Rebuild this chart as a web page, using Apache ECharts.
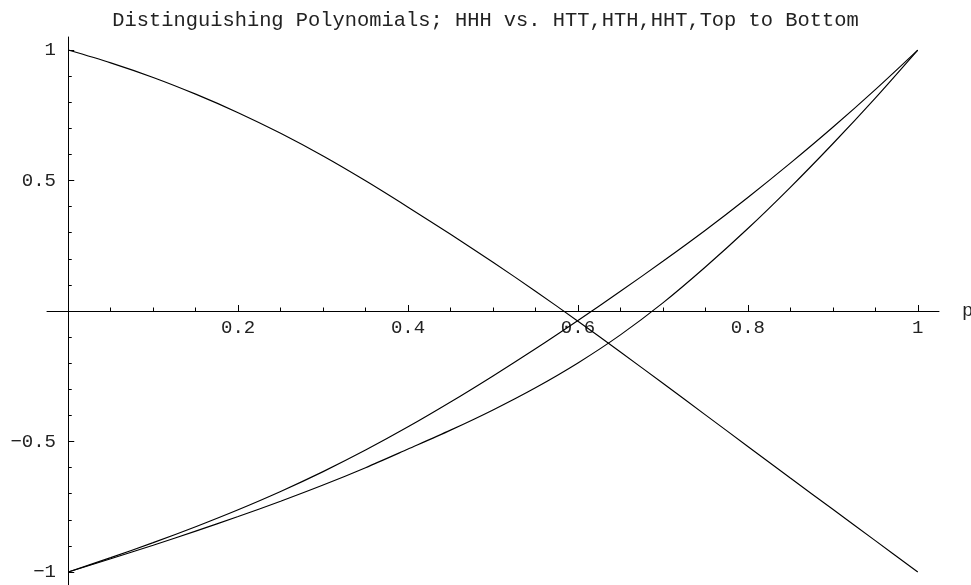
<!DOCTYPE html>
<html>
<head>
<meta charset="utf-8">
<script src="https://cdn.jsdelivr.net/npm/echarts@6/dist/echarts.min.js"></script>
<style>
  html, body { margin: 0; padding: 0; background: #fff; }
  #chart { width: 971px; height: 585px; }
</style>
</head>
<body>
<div id="chart"></div>
<script>
// Probability of heads, sampled every 0.05
const pValues = [0, 0.05, 0.1, 0.15, 0.2, 0.25, 0.3, 0.35, 0.4, 0.45, 0.5,
                 0.55, 0.6, 0.65, 0.7, 0.75, 0.8, 0.85, 0.9, 0.95, 1];

// Distinguishing polynomial of HHH against each rival pattern
const htt = [1, 0.951, 0.895, 0.831, 0.76, 0.681, 0.594, 0.499, 0.398, 0.294, 0.187,
             0.076, -0.039, -0.157, -0.277, -0.398, -0.519, -0.64, -0.76, -0.88, -1];
const hth = [-1, -0.945, -0.8875, -0.8265, -0.7615, -0.6915, -0.6155, -0.533, -0.444, -0.349, -0.249,
             -0.145, -0.0365, 0.0755, 0.1905, 0.3095, 0.435, 0.5665, 0.704, 0.8485, 1];
const hht = [-1, -0.9495, -0.8975, -0.8435, -0.7875, -0.729, -0.667, -0.6005, -0.529, -0.4565, -0.379,
             -0.294, -0.199, -0.0915, 0.031, 0.1685, 0.316, 0.474, 0.641, 0.816, 1];

// Tick positions and labels
const xMajorTicks = [0.2, 0.4, 0.6, 0.8, 1];
const xMinorTicks = [0.05, 0.1, 0.15, 0.25, 0.3, 0.35, 0.45, 0.5, 0.55, 0.65, 0.7, 0.75, 0.85, 0.9, 0.95];
const yMajorTicks = [-1, -0.5, 0.5, 1];
const yMinorTicks = [-0.9, -0.8, -0.7, -0.6, -0.4, -0.3, -0.2, -0.1, 0.1, 0.2, 0.3, 0.4, 0.6, 0.7, 0.8, 0.9];

const FONT = 'Liberation Mono, Courier New, monospace';
const INK = '#000';
const TEXT = '#222';

const xRange = { min: -0.025, max: 1.025 };
const yRange = { min: -1.05, max: 1.05 };

// Plot frame in pixels; the origin sits at (68, 312)
const FRAME = { left: 47, right: 32, top: 37, bottom: 0 };
const ORIGIN_X = 68;
const ORIGIN_Y = 312;

function fmt(v) {
  return String(v).replace('-', '\u2212');
}

function pairs(ys) {
  return pValues.map((p, i) => [p, ys[i]]);
}

function curve(name, ys) {
  return {
    name: name,
    type: 'line',
    xAxisIndex: 0,
    yAxisIndex: 0,
    data: pairs(ys),
    smooth: 0.3,
    showSymbol: false,
    silent: true,
    lineStyle: { color: INK, width: 1.15 },
    z: 5
  };
}

function gridAt(box) {
  return Object.assign({ containLabel: false, outerBoundsMode: 'none' }, box);
}

const hiddenAxisParts = {
  axisLine: { show: false },
  axisTick: { show: false },
  axisLabel: { show: false },
  splitLine: { show: false }
};

const labelStyle = { fontFamily: FONT, fontSize: 19, color: TEXT };

const chart = echarts.init(document.getElementById('chart'), null, { renderer: 'canvas' });

chart.setOption({
  animation: false,
  backgroundColor: '#fff',
  title: {
    text: 'Distinguishing Polynomials; HHH vs. HTT,HTH,HHT,Top to Bottom',
    left: 'center',
    top: 6,
    textStyle: { fontFamily: FONT, fontSize: 20.4, fontWeight: 'normal', color: TEXT }
  },
  grid: [
    // 0: curves, axis lines, major ticks
    gridAt(FRAME),
    // 1: minor ticks
    gridAt(FRAME),
    // 2: x tick labels, bottom edge on the horizontal axis
    gridAt({ left: FRAME.left, right: FRAME.right, top: FRAME.top, bottom: 585 - ORIGIN_Y }),
    // 3: y tick labels, left edge on the vertical axis
    gridAt({ left: ORIGIN_X, right: FRAME.right, top: FRAME.top, bottom: FRAME.bottom })
  ],
  xAxis: [
    {
      gridIndex: 0, type: 'value', min: xRange.min, max: xRange.max,
      name: 'p', nameLocation: 'end', nameGap: 23,
      nameTextStyle: { fontFamily: FONT, fontSize: 19, color: TEXT, verticalAlign: 'middle', padding: [0, 0, 5, 0] },
      axisLine: { onZero: true, lineStyle: { color: INK, width: 1 } },
      axisTick: { show: true, inside: true, length: 6, customValues: xMajorTicks, lineStyle: { color: INK, width: 1 } },
      axisLabel: { show: false },
      splitLine: { show: false }
    },
    {
      gridIndex: 1, type: 'value', min: xRange.min, max: xRange.max,
      axisLine: { show: false, onZero: true },
      axisTick: { show: true, inside: true, length: 3.5, customValues: xMinorTicks, lineStyle: { color: INK, width: 1 } },
      axisLabel: { show: false },
      splitLine: { show: false }
    },
    {
      gridIndex: 2, type: 'value', min: xRange.min, max: xRange.max, position: 'bottom',
      axisLine: { show: false, onZero: false },
      axisTick: { show: false },
      axisLabel: Object.assign({ show: true, customValues: xMajorTicks, margin: 6, formatter: fmt }, labelStyle),
      splitLine: { show: false }
    },
    Object.assign({ gridIndex: 3, type: 'value', min: 0, max: 1 }, hiddenAxisParts)
  ],
  yAxis: [
    {
      gridIndex: 0, type: 'value', min: yRange.min, max: yRange.max,
      axisLine: { onZero: true, lineStyle: { color: INK, width: 1 } },
      axisTick: { show: true, inside: true, length: 6, customValues: yMajorTicks, lineStyle: { color: INK, width: 1 } },
      axisLabel: { show: false },
      splitLine: { show: false }
    },
    {
      gridIndex: 1, type: 'value', min: yRange.min, max: yRange.max,
      axisLine: { show: false, onZero: true },
      axisTick: { show: true, inside: true, length: 3.5, customValues: yMinorTicks, lineStyle: { color: INK, width: 1 } },
      axisLabel: { show: false },
      splitLine: { show: false }
    },
    Object.assign({ gridIndex: 2, type: 'value', min: 0, max: 1 }, hiddenAxisParts),
    {
      gridIndex: 3, type: 'value', min: yRange.min, max: yRange.max, position: 'left',
      axisLine: { show: false, onZero: false },
      axisTick: { show: false },
      axisLabel: Object.assign({ show: true, customValues: yMajorTicks, margin: 12, formatter: fmt }, labelStyle),
      splitLine: { show: false }
    }
  ],
  series: [
    curve('HTT', htt),
    curve('HTH', hth),
    curve('HHT', hht)
  ]
});
</script>
</body>
</html>
